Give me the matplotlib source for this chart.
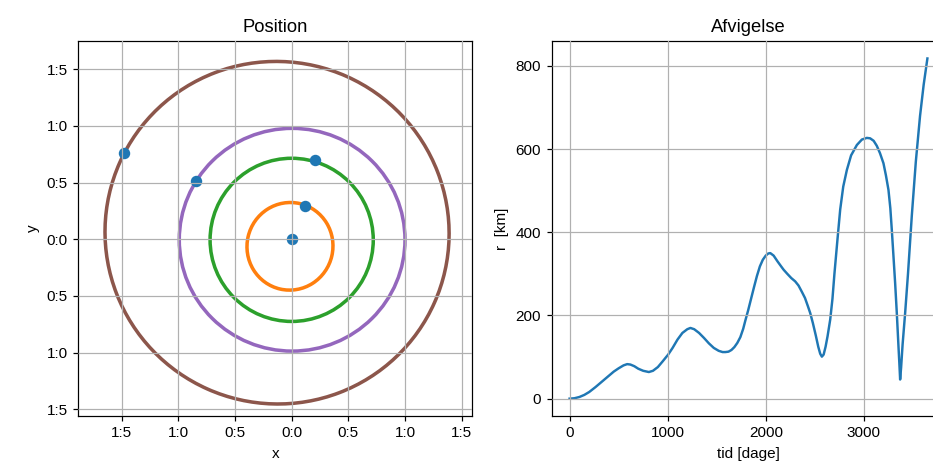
import matplotlib
matplotlib.use("Agg")
import matplotlib.pyplot as plt
from matplotlib.patches import Ellipse

plt.rcParams['font.family'] = ['Liberation Sans', 'DejaVu Sans']

# Orbits: centre, semi-axes (AU) and orientation (deg)
orbit_cx = [-0.015, 0.000, 0.004, -0.129]
orbit_cy = [-0.062, -0.005, -0.004, 0.058]
orbit_a = [0.387, 0.720, 0.996, 1.520]
orbit_b = [0.379, 0.720, 0.983, 1.510]
orbit_angle = [77, 0, 0, 336]
orbit_colors = ['C1', 'C2', 'C4', 'C5']

# Current body positions (Sun first)
body_x = [0.0, 0.117, 0.206, -0.844, -1.477]
body_y = [0.0, 0.294, 0.700, 0.514, 0.759]

pos_ticks = [-1.5, -1.0, -0.5, 0.0, 0.5, 1.0, 1.5]
pos_ticklabels = ['1:5', '1:0', '0:5', '0:0', '0:5', '1:0', '1:5']

# Deviation over time
t_days = [0, 50, 100, 150, 200, 265, 330, 400, 450, 500, 550, 587, 620, 660,
          700, 750, 808, 850, 900, 950, 1005, 1050, 1100, 1150, 1200, 1232,
          1270, 1320, 1370, 1420, 1470, 1520, 1560, 1588, 1620, 1650, 1680,
          1710, 1741, 1770, 1792, 1820, 1850, 1880, 1910, 1940, 1970, 2000,
          2025, 2046, 2080, 2120, 2160, 2182, 2220, 2260, 2300, 2334, 2370,
          2400, 2430, 2453, 2480, 2510, 2535, 2555, 2572, 2590, 2610, 2630,
          2657, 2680, 2700, 2730, 2759, 2790, 2827, 2870, 2929, 2980, 3030,
          3064, 3100, 3132, 3165, 3200, 3225, 3251, 3270, 3285, 3300, 3319,
          3336, 3353, 3362, 3370, 3380, 3395, 3421, 3450, 3489, 3530, 3573,
          3610, 3648]
r_km = [0, 1, 4, 9, 16, 28, 41, 55, 65, 73, 80, 83, 82, 78,
        72, 67, 64, 67, 76, 90, 106, 122, 142, 158, 167, 170,
        167, 158, 146, 133, 122, 115, 112, 112, 113, 117, 124,
        134, 148, 168, 188, 212, 240, 268, 295, 318, 334, 344,
        349, 350, 344, 330, 317, 310, 300, 290, 282, 272, 256,
        242, 222, 206, 182, 152, 125, 108, 101, 106, 125, 150,
        190, 240, 300, 380, 455, 510, 550, 585, 610, 623, 627,
        626, 620, 608, 590, 566, 537, 502, 458, 406, 350, 278,
        206, 126, 85, 46, 75, 130, 206, 300, 440, 570, 680,
        755, 818]

fig = plt.figure(figsize=(934 / 110, 468 / 110), dpi=110)
W, H = 934, 468
bottom = 1 - 415.7 / H
height = (415.7 - 41) / H
ax1 = fig.add_axes([78.3 / W, bottom, 394 / W, height])
ax2 = fig.add_axes([551.7 / W, bottom, 393.8 / W, height])

for cx, cy, a, b, ang, col in zip(orbit_cx, orbit_cy, orbit_a, orbit_b,
                                  orbit_angle, orbit_colors):
    ax1.add_patch(Ellipse((cx, cy), 2 * a, 2 * b, angle=ang, fill=False,
                          edgecolor=col, linewidth=2.3, zorder=2))
ax1.scatter(body_x, body_y, color='C0', s=42, zorder=2.2)
ax1.set_xlim(-1.883, 1.594)
ax1.set_ylim(-1.557, 1.750)
ax1.set_xticks(pos_ticks)
ax1.set_xticklabels(pos_ticklabels)
ax1.set_yticks(pos_ticks)
ax1.set_yticklabels(pos_ticklabels)
ax1.set_axisbelow(False)
ax1.grid(True)
ax1.set_title('Position', fontsize=12)
ax1.set_xlabel('x')
ax1.set_ylabel('y')

ax2.plot(t_days, r_km, color='C0', linewidth=1.6)
ax2.set_xlim(-182.5, 3832.5)
ax2.set_ylim(-41, 860)
ax2.set_xticks([0, 1000, 2000, 3000])
ax2.set_yticks([0, 200, 400, 600, 800])
ax2.set_axisbelow(False)
ax2.grid(True)
ax2.set_title('Afvigelse', fontsize=12)
ax2.set_xlabel('tid [dage]')
ax2.set_ylabel('r  [km]')

fig.savefig('out.png', dpi=110)
